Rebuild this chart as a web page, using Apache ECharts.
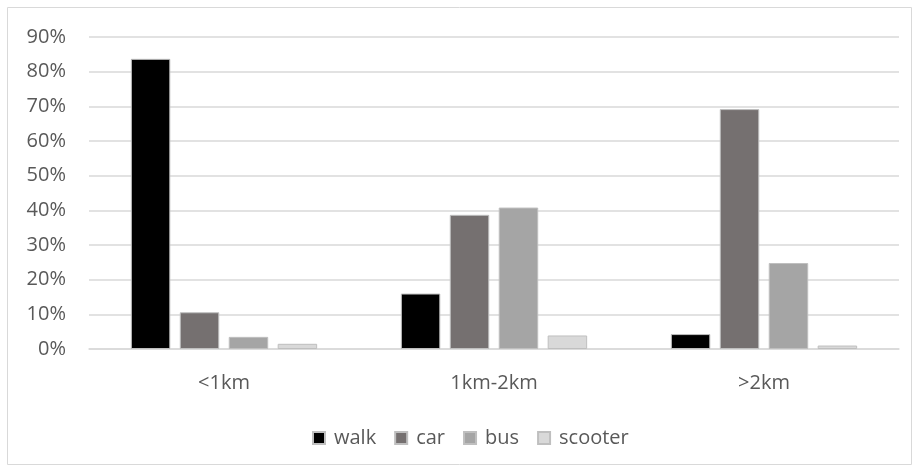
<!DOCTYPE html>
<html>
<head>
<meta charset="utf-8">
<script src="https://cdn.jsdelivr.net/npm/echarts@6/dist/echarts.min.js"></script>
<style>
  html, body { margin: 0; padding: 0; background: #fff; }
  #chart { width: 919px; height: 473px; }
</style>
</head>
<body>
<div id="chart"></div>
<script>
// Trip distance bands and the share of each travel mode (in %)
const categories = ['<1km', '1km-2km', '>2km'];
const walk = [83.7, 16.0, 4.3];
const car = [10.6, 38.7, 69.2];
const bus = [3.5, 40.8, 24.8];
const scooter = [1.5, 3.9, 1.0];
const yTicks = [0, 10, 20, 30, 40, 50, 60, 70, 80, 90];

const modeNames = ['walk', 'car', 'bus', 'scooter'];
const modeValues = [walk, car, bus, scooter];
const modeColors = ['#000000', '#757070', '#a5a5a5', '#d9d9d9'];

const fontFamily = 'Open Sans, Liberation Sans, sans-serif';

const chart = echarts.init(document.getElementById('chart'));
chart.setOption({
  animation: false,
  graphic: [{
    type: 'rect',
    shape: { x: 7.5, y: 7.5, width: 904, height: 457 },
    style: { fill: 'none', stroke: '#d9d9d9', lineWidth: 1 },
    silent: true
  }],
  grid: { left: 89, right: 20, top: 37, bottom: 124, containLabel: false },
  legend: {
    top: 423,
    left: 307,
    itemWidth: 12,
    itemHeight: 12,
    itemGap: 18,
    icon: 'rect',
    textStyle: { color: '#595959', fontSize: 20, fontFamily: fontFamily, padding: [0, 0, 0, 4] },
    data: modeNames
  },
  xAxis: {
    type: 'category',
    data: categories,
    axisLine: { show: true, lineStyle: { color: '#d9d9d9', width: 1.5 } },
    axisTick: { show: false },
    axisLabel: { color: '#595959', fontSize: 20, fontFamily: fontFamily, margin: 24 }
  },
  yAxis: {
    type: 'value',
    min: yTicks[0],
    max: yTicks[yTicks.length - 1],
    interval: 10,
    axisLine: { show: false },
    axisTick: { show: false },
    axisLabel: { color: '#595959', fontSize: 20, fontFamily: fontFamily, margin: 23, formatter: v => v + '%' },
    splitLine: { lineStyle: { color: '#d9d9d9', width: 1.5 } }
  },
  series: modeNames.map((name, i) => ({
    name: name,
    type: 'bar',
    data: modeValues[i],
    barGap: '24%',
    barCategoryGap: '31%',
    itemStyle: { color: modeColors[i], borderColor: '#bfbfbf', borderWidth: 1 }
  }))
});
</script>
</body>
</html>
